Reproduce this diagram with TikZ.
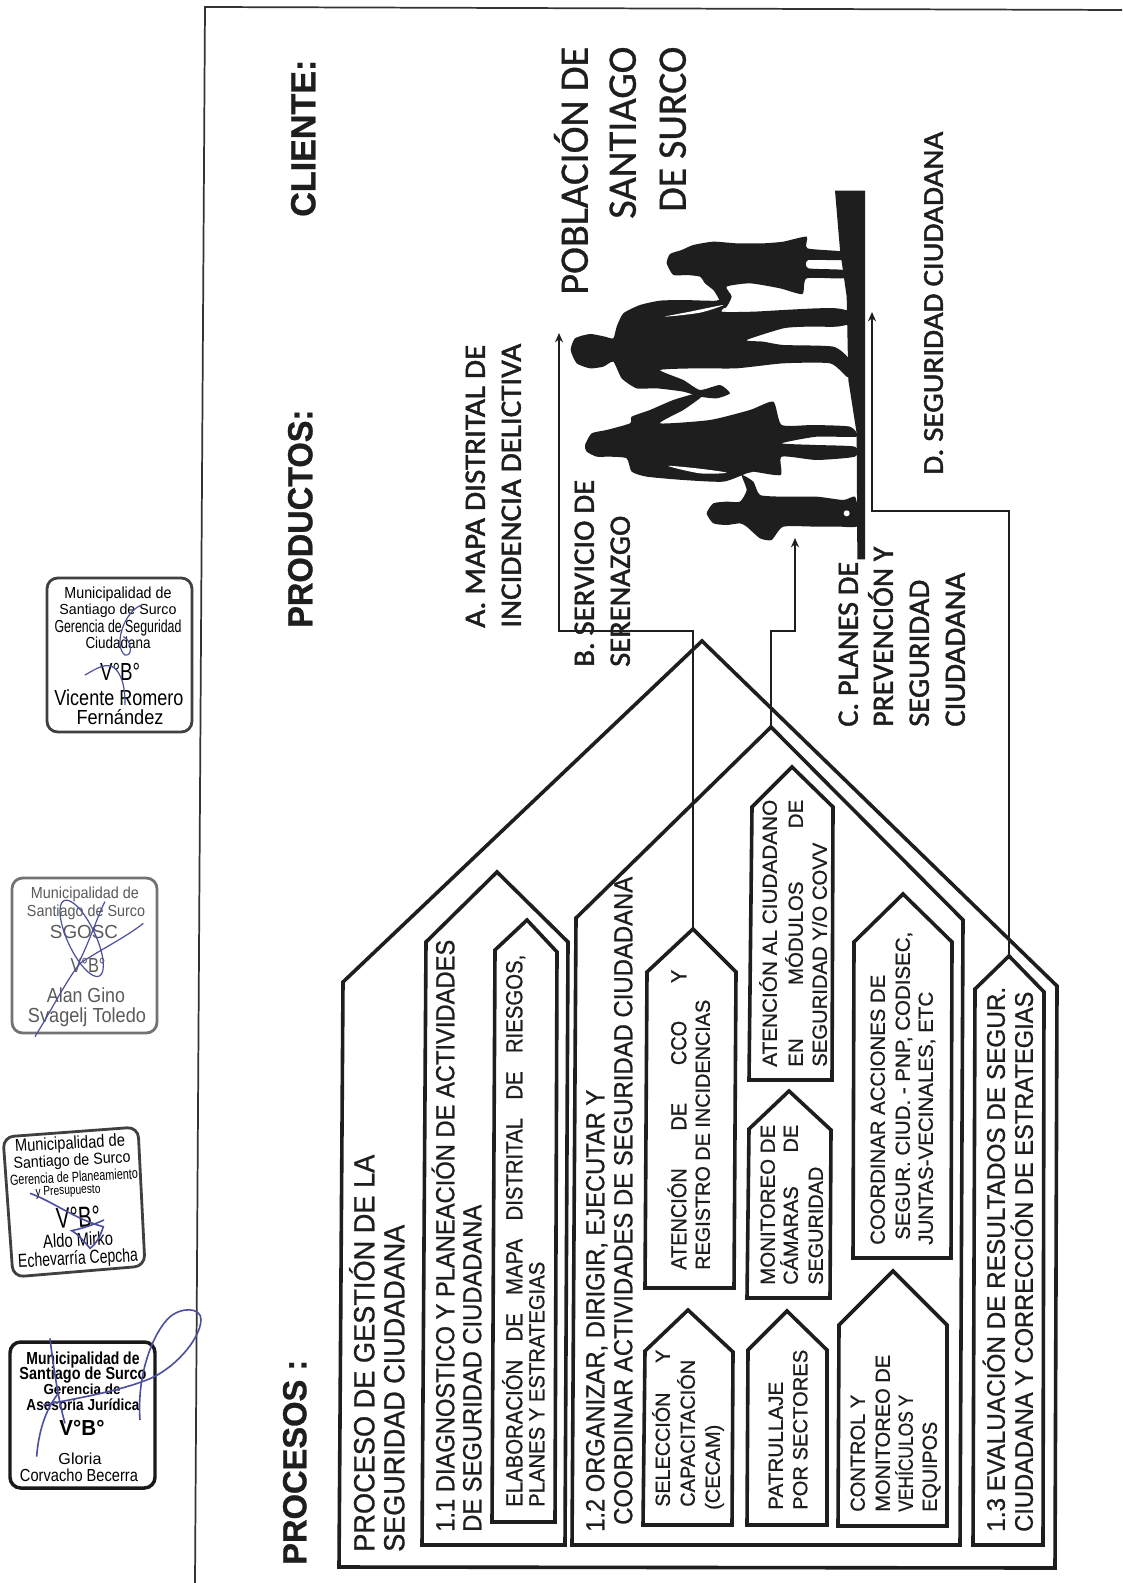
\documentclass[tikz,border=0pt]{standalone}
\usepackage{fontspec}
\usepackage{graphicx}
\usetikzlibrary{arrows.meta}
\newfontfamily\arialf[FakeBold=.9]{Liberation Sans}
\newfontfamily\arialb[BoldFeatures={FakeBold=.9}]{Liberation Sans}
\newfontfamily\stampf{Liberation Sans}
\newfontfamily\calibf[FakeBold=1.6]{Carlito}
\newfontfamily\calibp[FakeBold=.8]{Carlito}
\definecolor{ink}{HTML}{1E1E1E}
\definecolor{stampgray}{HTML}{5A5A5A}
\definecolor{signblue}{HTML}{4B4F9E}
\newdimen\pxu \pxu=.75pt
% rotated line: style,name,x-left,y-start,length,capheight,text
\newcommand\TL[7]{\node[rtxt,#1] (#2) at (#3,#4) {\resizebox{#5\pxu}{#6\pxu}{\vphantom{H}\smash{#7}}};}
% stamp line: style,name,cx,cy,length,capheight,text
\newcommand\SL[7]{\node[stxt,#1] (#2) at (#3,#4) {\resizebox{#5\pxu}{#6\pxu}{\vphantom{H}\smash{#7}}};}
\tikzset{
  rtxt/.style={rotate=90,anchor=north west,inner sep=0pt,text=ink},
  body/.style={font=\arialf},
  heavy/.style={font=\arialb\bfseries},
  cali/.style={font=\calibf},
  popu/.style={font=\calibp},
  stxt/.style={anchor=center,inner sep=0pt,font=\stampf,text=black},
  grayt/.style={text=stampgray},
  boxln/.style={draw=ink,line width=2.7pt,line join=miter},
  conn/.style={draw=ink,line width=1.7pt},
  arrowconn/.style={conn,-{Stealth[length=7pt,width=6pt]}},
  frameln/.style={draw=black!80,line width=1.3pt},
  stampln/.style={draw=black!75,line width=2.1pt,rounded corners=8pt},
  sign/.style={draw=signblue,line width=.9pt},
  sil/.style={fill=ink,draw=none}
}
\begin{document}
\begin{tikzpicture}[x=.75pt,y=-.75pt]
\useasboundingbox[fill=white] (0,0) rectangle (1122,1583);
% page frame
\draw[frameln] (1122,10) -- (205,7) -- (195,1583);

% process boxes
\draw[boxln] (339,1567) -- (343,982) -- (702,641) coordinate (apexO) -- (1057,986) -- (1055,1568) -- cycle;
\draw[boxln] (422,1545) -- (426,942) -- (497,872) coordinate (apexA) -- (568,942) -- (565,1545) -- cycle;
\draw[boxln] (492,1522) -- (495,950) -- (527,920) coordinate (apexAa) -- (557,952) -- (555,1522) -- cycle;
\draw[boxln] (572,1545) -- (576,918) -- (771,727) coordinate (apexB) -- (963,920) -- (960,1545) -- cycle;
\draw[boxln] (973,1545) -- (975,989) -- (1009,956) coordinate (apexC) -- (1044,992) -- (1043,1545) -- cycle;
\draw[boxln] (643,1525) -- (645,1351) -- (688,1310) coordinate (apexS) -- (733,1352) -- (732,1525) -- cycle;
\draw[boxln] (645,1288) -- (647,972) -- (693,929) coordinate (apexR) -- (736,972) -- (734,1288) -- cycle;
\draw[boxln] (747,1525) -- (748,1350) -- (787,1311) coordinate (apexP) -- (827,1350) -- (827,1525) -- cycle;
\draw[boxln] (747,1298) -- (749,1129) -- (789,1091) coordinate (apexM) -- (831,1130) -- (830,1298) -- cycle;
\draw[boxln] (749,1080) -- (752,807) -- (792,767) coordinate (apexU) -- (833,807) -- (832,1080) -- cycle;
\draw[boxln] (853,1258) -- (854,942) -- (903,894) coordinate (apexK) -- (952,942) -- (951,1258) -- cycle;
\draw[boxln] (838,1526) -- (839,1325) -- (893,1271) coordinate (apexT) -- (947,1325) -- (947,1526) -- cycle;

% connector ends
\coordinate (endA) at (559,333);
\coordinate (endC) at (795,538);
\coordinate (endD) at (872,312);
\coordinate (bendA) at (693,631);
\coordinate (bendB) at (771,631);
\coordinate (bendC) at (1009,511);
\draw[arrowconn] (apexR) -- (bendA) -| (endA);
\draw[arrowconn] (apexB) -- (bendB) -| (endC);
\draw[arrowconn] (apexC) -- (bendC) -| (endD);

% silhouette of the family
\begin{scope}[shift={(550,180)},scale=1/3]
\fill[sil] (855,32) -- (945,32) -- (945,1138) -- (922,1138) -- (920,760) -- (895,600) -- (890,350) -- (870,210) -- cycle;
\fill[sil] plot[smooth cycle,tension=.35] coordinates {(350,250) (360,222) (395,210) (430,195) (490,185) (560,190) (640,190) (700,185) (770,170) (772,205) (880,215) (880,240) (775,240) (775,265) (880,270) (880,295) (770,295) (757,342) (690,325) (600,310) (530,320) (545,350) (525,385) (500,345) (490,330) (465,310) (450,290) (410,285) (370,285)};
\fill[sil] plot[smooth cycle,tension=.35] coordinates {(62,510) (75,475) (120,462) (165,470) (190,475) (200,440) (220,400) (270,375) (330,362) (400,360) (500,362) (525,345) (535,370) (515,395) (610,395) (700,390) (800,385) (860,385) (900,395) (900,430) (860,440) (770,440) (700,445) (590,480) (640,485) (700,495) (850,500) (900,540) (910,595) (890,590) (840,550) (700,550) (560,565) (440,565) (330,570) (400,600) (450,630) (510,615) (540,640) (500,655) (450,650) (400,635) (320,625) (260,625) (215,595) (190,545) (160,560) (120,565) (80,550)};
\fill[sil] plot[smooth cycle,tension=.35] coordinates {(105,795) (125,760) (170,750) (240,730) (245,710) (300,690) (370,660) (440,640) (455,650) (400,690) (330,730) (480,720) (600,690) (670,665) (695,735) (790,735) (900,740) (920,770) (800,770) (695,790) (800,795) (915,800) (915,830) (800,840) (695,830) (692,885) (610,875) (590,880) (520,905) (400,900) (290,890) (245,875) (230,835) (180,830) (140,830) (110,815)};
\fill[sil] plot[smooth cycle,tension=.35] coordinates {(470,1000) (490,970) (530,965) (570,965) (590,930) (575,885) (610,905) (630,945) (700,950) (800,950) (880,960) (915,950) (925,1000) (920,1040) (870,1040) (800,1040) (700,1040) (665,1080) (630,1075) (590,1040) (570,1030) (530,1035) (490,1030)};
\fill[white] plot[smooth cycle,tension=.5] coordinates {(345,410) (420,395) (520,375) (450,398)};
\fill[white] plot[smooth cycle,tension=.5] coordinates {(355,858) (440,865) (530,878) (450,880)};
\fill[white] (890,1000) circle (9);
\end{scope}

% headings
\TL{heavy}{hProc}{283}{1565}{205}{23}{PROCESOS :}
\TL{heavy}{hProd}{288}{628}{218}{24}{PRODUCTOS:}
\TL{heavy}{hClie}{291}{217}{157}{24}{CLIENTE:}

% process text
\TL{body}{t1a}{354}{1552}{397}{20}{PROCESO DE GESTIÓN DE LA}
\TL{body}{t1b}{384}{1552}{327}{20}{SEGURIDAD CIUDADANA}
\TL{body}{t2a}{436}{1532}{592}{18}{1.1 DIAGNOSTICO Y PLANEACIÓN DE ACTIVIDADES}
\TL{body}{t2b}{463}{1532}{327}{18}{DE SEGURIDAD CIUDADANA}
\TL{body}{t3a}{506}{1507}{552}{16}{ELABORACIÓN\hspace{.9em}DE\hspace{.9em}MAPA\hspace{.9em}DISTRITAL\hspace{.9em}DE\hspace{.9em}RIESGOS,}
\TL{body}{t3b}{529}{1507}{245}{15}{PLANES Y ESTRATEGIAS}
\TL{body}{t4a}{586}{1532}{442}{18}{1.2 ORGANIZAR, DIRIGIR, EJECUTAR Y}
\TL{body}{t4b}{614}{1525}{648}{18}{COORDINAR ACTIVIDADES DE SEGURIDAD CIUDADANA}
\TL{body}{t5a}{655.5}{1507}{157}{14}{SELECCIÓN\hspace{1.5em}Y}
\TL{body}{t5b}{680.5}{1507}{147}{14}{CAPACITACIÓN}
\TL{body}{t5c}{705.5}{1510}{85}{14}{(CECAM)}
\TL{body}{t6a}{671}{1270}{300}{15}{ATENCIÓN\hspace{1.9em}DE\hspace{1.9em}CCO\hspace{1.9em}Y}
\TL{body}{t6b}{695.5}{1270}{270}{14}{REGISTRO DE INCIDENCIAS}
\TL{body}{t7a}{768.5}{1510}{128}{14}{PATRULLAJE}
\TL{body}{t7b}{793}{1510}{160}{14}{POR SECTORES}
\TL{body}{t8a}{760.5}{1285}{160}{14}{MONITOREO DE}
\TL{body}{t8b}{783.5}{1285}{160}{14}{CÁMARAS\hspace{1.7em}DE}
\TL{body}{t8c}{808.5}{1285}{118}{14}{SEGURIDAD}
\TL{body}{t9a}{762.5}{1067}{267}{14}{ATENCIÓN AL CIUDADANO}
\TL{body}{t9b}{788.5}{1067}{267}{14}{EN\hspace{2.6em}MÓDULOS\hspace{2.6em}DE}
\TL{body}{t9c}{812.5}{1067}{224}{14}{SEGURIDAD Y/O COVV}
\TL{body}{t10a}{870.5}{1245}{270}{14}{COORDINAR ACCIONES DE}
\TL{body}{t10b}{895.5}{1240}{308}{14}{SEGUR. CIUD. - PNP, CODISEC,}
\TL{body}{t10c}{918.5}{1245}{253}{14}{JUNTAS-VECINALES, ETC}
\TL{body}{t11a}{850.5}{1512}{117}{14}{CONTROL Y}
\TL{body}{t11b}{875.5}{1512}{157}{14}{MONITOREO DE}
\TL{body}{t11c}{898.5}{1512}{117}{14}{VEHÍCULOS Y}
\TL{body}{t11d}{922.5}{1512}{90}{14}{EQUIPOS}
\TL{body}{t12a}{987}{1532}{545}{17.5}{1.3 EVALUACIÓN DE RESULTADOS DE SEGUR.}
\TL{body}{t12b}{1015}{1532}{540}{17.5}{CIUDADANA Y CORRECCIÓN DE ESTRATEGIAS}

% products
\TL{cali}{pA1}{465.5}{628}{283}{19}{A. MAPA DISTRITAL DE}
\TL{cali}{pA2}{501.5}{628}{284}{19}{INCIDENCIA DELICTIVA}
\TL{cali}{pB1}{574.5}{667}{187}{19}{B. SERVICIO DE}
\TL{cali}{pB2}{610.5}{667}{151}{19}{SERENAZGO}
\TL{cali}{pC1}{838.5}{727}{165}{19}{C. PLANES DE}
\TL{cali}{pC2}{873.5}{727}{180}{19}{PREVENCIÓN Y}
\TL{cali}{pC3}{909.5}{727}{147}{19}{SEGURIDAD}
\TL{cali}{pC4}{945.5}{727}{154}{19}{CIUDADANA}
\TL{cali}{pD}{924}{475}{343}{18.5}{D. SEGURIDAD CIUDADANA}

% client
\TL{popu}{c1}{561.5}{295}{248}{26}{POBLACIÓN DE}
\TL{popu}{c2}{609.5}{219}{172}{26}{SANTIAGO}
\TL{popu}{c3}{659.5}{212}{165}{26}{DE SURCO}

% stamp 1
\draw[stampln] (47,578) rectangle (192,732);
\SL{}{s1a}{118}{593}{107}{11}{Municipalidad de}
\SL{}{s1b}{118}{609}{117}{10}{Santiago de Surco}
\SL{}{s1c}{118}{626}{127}{12}{Gerencia de Seguridad}
\SL{}{s1d}{118}{643}{65}{11}{Ciudadana}
\SL{}{s1e}{120}{672}{40}{17}{V°B°}
\SL{}{s1f}{119}{698}{129}{15}{Vicente Romero}
\SL{}{s1g}{120}{717}{87}{14}{Fernández}
% stamp 2
\draw[stampln,draw=black!55] (12,878) rectangle (157,1033);
\SL{grayt}{s2a}{85}{893}{108}{11}{Municipalidad de}
\SL{grayt}{s2b}{86}{911}{118}{11}{Santiago de Surco}
\SL{grayt}{s2c}{84}{932}{68}{13}{SGOSC}
\SL{grayt}{s2d}{88}{965}{35}{14}{V°B°}
\SL{grayt}{s2e}{86}{995}{78}{14}{Alan Gino}
\SL{grayt}{s2f}{87}{1015}{118}{14}{Svagelj Toledo}
% stamp 3
\draw[stampln] (3,1137) -- (138,1127) -- (145,1266) -- (13,1277) -- cycle;
\SL{rotate=3}{s3a}{70}{1143}{110}{12}{Municipalidad de}
\SL{rotate=3}{s3b}{72}{1160}{117}{11}{Santiago de Surco}
\SL{rotate=3}{s3c}{74}{1177}{128}{10}{Gerencia de Planeamiento}
\SL{rotate=3}{s3d}{68}{1190}{65}{9}{y Presupuesto}
\SL{rotate=3}{s3e}{78}{1217}{44}{20}{V°B°}
\SL{rotate=3}{s3f}{78}{1240}{70}{13}{Aldo Mirko}
\SL{rotate=3}{s3g}{78}{1258}{120}{13}{Echevarría Cepcha}
% stamp 4
\draw[stampln,draw=black!90,line width=2.6pt] (10,1342) rectangle (155,1488);
\SL{font=\stampf\bfseries}{s4a}{83}{1358}{113}{12}{Municipalidad de}
\SL{font=\stampf\bfseries}{s4b}{83}{1373}{127}{12}{Santiago de Surco}
\SL{font=\stampf\bfseries}{s4c}{82}{1389}{77}{10}{Gerencia de}
\SL{font=\stampf\bfseries}{s4d}{83}{1405}{113}{11}{Asesoría Jurídica}
\SL{font=\stampf\bfseries}{s4e}{82}{1428}{45}{15}{V°B°}
\SL{}{s4f}{80}{1459}{43}{11}{Gloria}
\SL{}{s4g}{79}{1475}{118}{12}{Corvacho Becerra}

% signatures
\begin{scope}[shift={(0,540)},scale=1/3]
\draw[sign] (425,195) .. controls (370,215) and (340,320) .. (375,345) .. controls (400,350) and (395,300) .. (370,290);
\draw[sign] (255,405) .. controls (290,385) and (320,365) .. (345,385) .. controls (375,415) and (375,470) .. (375,495);
\draw[sign] (105,1490) .. controls (160,1400) and (200,1320) .. (240,1270) .. controls (300,1230) and (380,1190) .. (430,1150);
\draw[sign,rotate around={25:(245,1195)}] (245,1195) ellipse (42 and 125);
\draw[sign] (240,1260) .. controls (270,1200) and (300,1110) .. (315,1085);
\end{scope}
\begin{scope}[shift={(0,1040)},scale=1/3]
\draw[sign,line width=1.2pt] (90,460) .. controls (150,480) and (230,540) .. (310,560) .. controls (300,590) and (290,610) .. (270,625) .. controls (250,600) and (230,580) .. (215,572) .. controls (250,565) and (290,550) .. (312,540);
\draw[sign,line width=1.2pt] (110,1250) .. controls (115,1180) and (135,1110) .. (175,1060);
\draw[sign,line width=1.2pt] (150,895) .. controls (160,980) and (175,1080) .. (195,1150);
\draw[sign,line width=1.2pt] (130,1095) .. controls (230,1075) and (350,1055) .. (440,1020) .. controls (520,990) and (600,900) .. (603,840) .. controls (605,800) and (540,800) .. (505,835) .. controls (460,880) and (410,1000) .. (420,1140);
\end{scope}
\end{tikzpicture}
\end{document}
